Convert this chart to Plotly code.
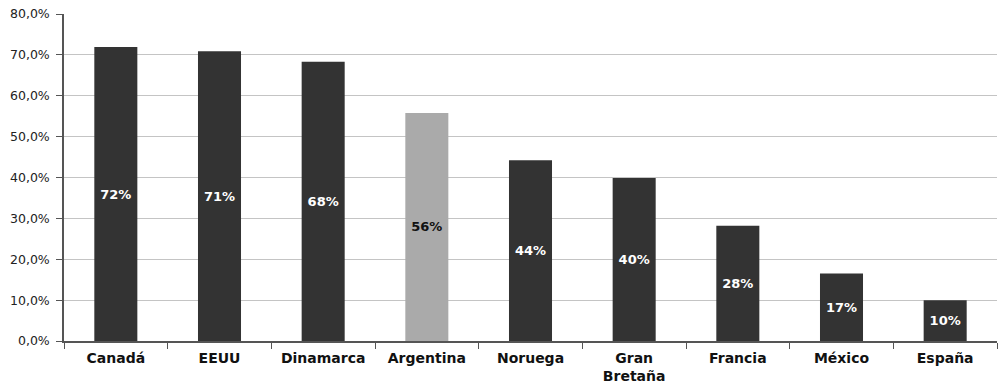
import plotly.graph_objects as go

paises = ["Canadá", "EEUU", "Dinamarca", "Argentina", "Noruega",
          "Gran<br>Bretaña", "Francia", "México", "España"]
valores = [0.719, 0.709, 0.683, 0.558, 0.442, 0.399, 0.282, 0.165, 0.100]
y_ticks = [0, 0.1, 0.2, 0.3, 0.4, 0.5, 0.6, 0.7, 0.8]

oscuro = "#333333"
claro = "#aaaaaa"
colores = [claro if p == "Argentina" else oscuro for p in paises]
color_texto = ["#111111" if p == "Argentina" else "#ffffff" for p in paises]

fuente = "DejaVu Sans, Arial"

fig = go.Figure(go.Bar(
    x=paises,
    y=valores,
    marker=dict(color=colores, line=dict(width=0)),
    texttemplate="%{y:.0%}",
    textposition="inside",
    insidetextanchor="middle",
    textangle=0,
    textfont=dict(family=fuente, size=13, color=color_texto, weight="bold"),
    hoverinfo="skip",
))

fig.update_layout(
    width=1003,
    height=389,
    margin=dict(l=64, r=6, t=14, b=48),
    plot_bgcolor="white",
    paper_bgcolor="white",
    bargap=0.585,
    separators=",.",
    showlegend=False,
    uniformtext=dict(minsize=13, mode="show"),
    font=dict(family=fuente, color="#222222"),
)

fig.update_yaxes(
    range=[0, 0.8],
    tickvals=y_ticks,
    tickformat=".1%",
    showgrid=True,
    gridcolor="#c4c4c4",
    gridwidth=1,
    showline=True,
    linecolor="#555555",
    linewidth=1.5,
    ticks="outside",
    ticklen=6,
    tickcolor="#555555",
    ticklabelstandoff=4,
    tickfont=dict(family=fuente, size=12.5, color="#222222"),
    zeroline=False,
    automargin=False,
)

fig.update_xaxes(
    showline=True,
    linecolor="#555555",
    linewidth=1.5,
    ticks="outside",
    tickson="boundaries",
    ticklen=6,
    tickcolor="#555555",
    ticklabelstandoff=3,
    tickfont=dict(family=fuente, size=14, color="#111111", weight="bold"),
    range=[-0.5, 8.5],
    automargin=False,
)

fig.write_html("out.html")
